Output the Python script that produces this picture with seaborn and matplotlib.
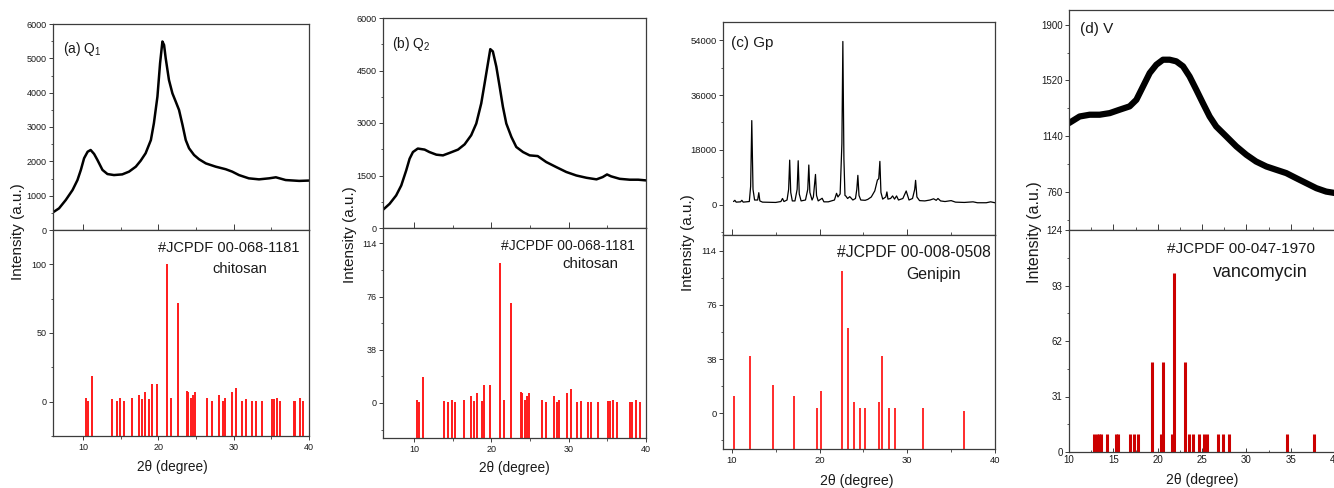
import numpy as np
import pandas as pd
import seaborn as sns
import matplotlib
matplotlib.use("Agg")
import matplotlib.pyplot as plt
from matplotlib.ticker import MultipleLocator, FixedLocator

# ---------------- data ----------------
# (a) Q1 XRD pattern
q1_x = [6.0, 6.8, 7.7, 8.6, 9.25, 9.7, 10.13, 10.6, 11.0, 11.46, 11.9, 12.57, 13.23, 14.1,
        15.2, 16.1, 17.0, 17.65, 18.3, 19.0, 19.4, 19.87, 20.22, 20.53, 20.75, 20.97, 21.4,
        21.86, 22.3, 22.74, 23.2, 23.63, 24.07, 24.73, 25.4, 26.3, 27.6, 28.94, 29.8, 30.7,
        32.0, 33.36, 34.7, 35.6, 36.9, 38.7, 40.0]
q1_y = [515, 630, 875, 1165, 1455, 1750, 2090, 2280, 2330, 2215, 2040, 1750, 1630, 1600,
        1620, 1700, 1845, 2020, 2235, 2620, 3110, 3885, 4855, 5490, 5390, 5000, 4370,
        3980, 3740, 3495, 3060, 2620, 2380, 2185, 2060, 1940, 1845, 1770, 1700, 1600,
        1505, 1475, 1505, 1535, 1455, 1430, 1440]

# (b) Q2 XRD pattern
q2_x = [6.0, 6.85, 7.7, 8.36, 9.0, 9.44, 9.87, 10.5, 11.38, 12.0, 12.9, 13.75, 14.6, 15.7,
        16.55, 17.4, 18.06, 18.7, 19.14, 19.57, 19.87, 20.2, 20.65, 21.08, 21.5, 21.94,
        22.6, 23.23, 24.1, 24.96, 26.0, 27.1, 28.4, 29.7, 31.0, 32.3, 33.6, 34.4, 34.96,
        35.5, 36.6, 37.9, 39.0, 40.0]
q2_y = [520, 690, 930, 1215, 1645, 1980, 2170, 2270, 2240, 2170, 2095, 2075, 2145, 2240,
        2390, 2650, 2985, 3560, 4135, 4710, 5110, 5045, 4610, 4040, 3465, 2985,
        2600, 2315, 2170, 2075, 2055, 1885, 1740, 1600, 1500, 1435, 1390, 1455, 1530,
        1475, 1405, 1380, 1380, 1360]

# (c) Genipin XRD pattern
gp_x = [10.2, 10.35, 10.5, 11.0, 11.15, 11.3, 12.0, 12.15, 12.28, 12.42, 12.6, 12.95, 13.08,
        13.2, 13.5, 15.0, 15.6, 15.78, 15.95, 16.3, 16.48, 16.6, 16.72, 16.9, 17.2, 17.45,
        17.57, 17.69, 17.9, 18.4, 18.66, 18.78, 18.9, 19.15, 19.3, 19.54, 19.66, 19.85,
        20.3, 20.5, 21.0, 21.7, 21.94, 22.1, 22.35, 22.55, 22.66, 22.78, 22.9, 23.0, 23.2,
        23.45, 23.8, 24.1, 24.25, 24.37, 24.5, 24.7, 25.2, 25.5, 25.9, 26.3, 26.6, 26.75,
        26.88, 27.0, 27.2, 27.55, 27.68, 27.8, 28.1, 28.33, 28.55, 28.78, 29.0, 29.5, 29.88,
        30.2, 30.6, 30.85, 30.95, 31.1, 31.4, 32.0, 32.6, 33.0, 33.3, 33.5, 33.8, 34.3,
        35.0, 35.5, 36.5, 37.5, 38.0, 39.0, 39.5, 40.0]
gp_y = [1000, 1400, 800, 900, 1400, 800, 1000, 6000, 27600, 5000, 1500, 1500, 3900,
        1200, 800, 700, 1000, 2000, 1000, 1500, 5000, 14600, 4000, 1200, 1200, 5000,
        14400, 3500, 1200, 1500, 5000, 13000, 4000, 1500, 2500, 9900, 3000, 1200,
        2070, 900, 900, 1500, 3700, 2500, 3500, 20000, 53600, 15000, 3000, 2800, 2000,
        2600, 1500, 2000, 5000, 9600, 3000, 1500, 1400, 1700, 2500, 4500, 8070, 8500,
        14200, 4000, 1800, 2500, 4150, 1800, 2000, 2840, 1800, 2840, 1500, 2000, 4470,
        1500, 2000, 5000, 7960, 2500, 1300, 1200, 1500, 1900, 1400, 2000, 1200, 1000,
        1300, 800, 700, 900, 600, 600, 900, 600]

# (d) Vancomycin XRD pattern (centre of the noisy trace)
v_x = [10.0, 11.2, 12.33, 13.46, 14.6, 15.7, 16.84, 17.6, 18.35, 19.1, 19.85, 20.6, 21.35,
       22.1, 22.86, 23.6, 24.36, 25.1, 25.86, 26.6, 27.74, 28.87, 30.0, 31.1, 32.26, 33.4,
       34.5, 35.64, 36.77, 37.9, 39.0, 40.0]
v_y = [1229, 1274, 1286, 1286, 1297, 1320, 1343, 1388, 1479, 1570, 1627, 1661, 1661,
       1650, 1616, 1547, 1456, 1365, 1274, 1206, 1138, 1070, 1013, 967, 933, 910,
       888, 853, 819, 785, 762, 752]

# reference stick patterns
chit_pos = [10.44, 10.62, 11.2, 13.9, 14.44, 14.88, 15.37, 16.48, 17.37, 17.8, 18.2, 18.79,
            19.1, 19.85, 21.1, 21.67, 22.56, 23.8, 23.98, 24.38, 24.65, 24.87, 26.5, 27.1,
            28.07, 28.55, 28.8, 29.8, 30.24, 31.04, 31.57, 32.46, 32.9, 33.79, 35.12, 35.39,
            35.79, 36.19, 37.96, 38.14, 38.76, 39.25]
chit_int = [2.4, 0.8, 18.8, 1.7, 0.7, 2.4, 0.7, 2.4, 4.9, 1.7, 6.8, 1.7,
            12.9, 12.9, 100, 2.4, 71.5, 7.8, 7.3, 2.4, 4.9, 6.8, 2.4, 0.7,
            4.9, 0.7, 2.4, 6.8, 9.8, 0.7, 1.7, 0.7, 0.7, 0.7, 1.7, 1.7,
            2.4, 0.7, 0.7, 0.7, 2.4, 0.7]

gen_pos = [10.27, 12.05, 14.71, 17.11, 19.7, 20.19, 22.59, 23.23, 23.95, 24.64, 25.13,
           26.73, 27.15, 27.95, 28.59, 31.82, 36.5]
gen_int = [11.9, 40, 19.9, 11.9, 3.7, 15.9, 100, 60, 8, 3.7, 3.7, 8, 40, 3.7, 3.7, 3.7, 1.9]

van_pos = [12.78, 13.2, 13.38, 13.6, 14.25, 15.26, 15.56, 16.84, 17.37, 17.74, 19.4, 20.38,
           20.56, 21.65, 21.8, 23.12, 23.5, 24.02, 24.62, 25.26, 25.6, 26.8, 27.4, 28.08,
           34.55, 37.6]
van_int = [10, 10, 10, 10, 10, 10, 10, 10, 10, 10, 50, 10,
           50, 10, 100, 50, 10, 10, 10, 10, 10, 10, 10, 10,
           10, 10]

panel_titles = ["(a) Q$\\mathregular{_1}$", "(b) Q$\\mathregular{_2}$", "(c) Gp", "(d) V"]
card_ids = ["#JCPDF 00-068-1181", "#JCPDF 00-068-1181", "#JCPDF 00-008-0508", "#JCPDF 00-047-1970"]
card_names = ["chitosan", "chitosan", "Genipin", "vancomycin"]
y_label = "Intensity (a.u.)"
x_label = "2\u03b8 (degree)"

# ---------------- styling ----------------
sns.set_theme(style="ticks")
plt.rcParams["font.family"] = ["Liberation Sans", "DejaVu Sans"]
plt.rcParams["mathtext.fontset"] = "custom"
plt.rcParams["mathtext.rm"] = "Liberation Sans"

W, H = 1334, 488
fig = plt.figure(figsize=(W / 100, H / 100), dpi=100)
fig.patch.set_facecolor("white")


def box(l, t, r, b):
    return [l / W, 1 - b / H, (r - l) / W, (b - t) / H]


SPINE = "#3c3c3c"
TXT = "#1a1a1a"


def style(ax, lab_size):
    for s in ax.spines.values():
        s.set_visible(True)
        s.set_color(SPINE)
        s.set_linewidth(0.9)
    ax.set_facecolor("white")
    ax.tick_params(axis="y", which="major", direction="out", length=3, width=0.7,
                   labelsize=lab_size, pad=1.5, colors=SPINE, labelcolor=TXT)
    ax.tick_params(axis="y", which="minor", direction="out", length=1.8, width=0.6, colors=SPINE)
    ax.tick_params(axis="x", which="major", length=3.2, width=0.7, labelsize=lab_size,
                   pad=2, colors=SPINE, labelcolor=TXT)
    ax.tick_params(axis="x", which="minor", length=1.8, width=0.6, colors=SPINE)
    ax.set_xlabel("")
    ax.set_ylabel("")


def top_panel(rect, xs, ys, xlim, ylim, yticks, ymin_step, xmaj, xmin, lw, lab_size):
    ax = fig.add_axes(box(*rect))
    df = pd.DataFrame({"x": xs, "y": ys})
    sns.lineplot(data=df, x="x", y="y", ax=ax, color="black", linewidth=lw,
                 sort=False, estimator=None)
    ax.set_xlim(*xlim)
    ax.set_ylim(*ylim)
    style(ax, lab_size)
    ax.yaxis.set_major_locator(FixedLocator(yticks))
    ax.yaxis.set_minor_locator(MultipleLocator(ymin_step))
    ax.set_yticklabels([str(t) for t in yticks])
    ax.xaxis.set_major_locator(MultipleLocator(xmaj))
    ax.xaxis.set_minor_locator(MultipleLocator(xmin))
    ax.tick_params(axis="x", which="both", direction="in", labelbottom=False)
    ax.tick_params(axis="x", which="major", length=4.5)
    ax.tick_params(axis="x", which="minor", length=2.2)
    return ax


def bottom_panel(rect, pos, inten, xlim, ylim, yticks, ymin_step, xticks, xmin, color, lw,
                 base, lab_size, xdir="out"):
    ax = fig.add_axes(box(*rect))
    ax.set_xlim(*xlim)
    ax.set_ylim(*ylim)
    ax.vlines(pos, base, inten, colors=color, linewidth=lw)
    style(ax, lab_size)
    ax.yaxis.set_major_locator(FixedLocator(yticks))
    ax.yaxis.set_minor_locator(MultipleLocator(ymin_step))
    ax.set_yticklabels([str(t) for t in yticks])
    ax.xaxis.set_major_locator(FixedLocator(xticks))
    ax.xaxis.set_minor_locator(MultipleLocator(xmin))
    ax.set_xticklabels([str(t) for t in xticks])
    ax.tick_params(axis="x", which="both", direction=xdir)
    return ax


# ---- panel (a)
top_panel((53, 24, 309, 230), q1_x, q1_y, (6, 40), (0, 6000),
          [0, 1000, 2000, 3000, 4000, 5000, 6000], 500, 10, 5, 1.8, 6.5)
bottom_panel((53, 230, 309, 436), chit_pos, chit_int, (6, 40), (-25, 125),
             [0, 50, 100], 25, [10, 20, 30, 40], 5, "#ff1a1a", 1.4, -25, 6.5)

# ---- panel (b)
top_panel((383, 18, 646, 228), q2_x, q2_y, (6, 40), (0, 6000),
          [0, 1500, 3000, 4500, 6000], 750, 10, 5, 1.8, 6.5)
bottom_panel((383, 228, 646, 438), chit_pos, chit_int, (6, 40), (-25, 125),
             [0, 38, 76, 114], 19, [10, 20, 30, 40], 5, "#ff1a1a", 1.4, -25, 6.5)

# ---- panel (c)
top_panel((723, 22, 995, 235), gp_x, gp_y, (9, 40), (-10000, 60000),
          [0, 18000, 36000, 54000], 9000, 10, 5, 0.9, 6.8)
bottom_panel((723, 235, 995, 449), gen_pos, gen_int, (9, 40), (-25, 125),
             [0, 38, 76, 114], 19, [10, 20, 30, 40], 5, "#ff1a1a", 1.3, -25, 6.8)

# ---- panel (d)
top_panel((1069, 10, 1335, 230), v_x, v_y, (10, 40), (500, 2000),
          [760, 1140, 1520, 1900], 190, 5, 2.5, 4.5, 7)
bottom_panel((1069, 230, 1335, 452), van_pos, van_int, (10, 40), (0, 124),
             [0, 31, 62, 93, 124], 15.5, [10, 15, 20, 25, 30, 35, 40], 2.5, "#cc0000", 2.2,
             0, 7, xdir="in")


# ---------------- texts ----------------
def ftext(x, y, s, size, ha="left", va="baseline", rot=0):
    fig.text(x / W, 1 - y / H, s, fontsize=size, ha=ha, va=va, rotation=rot, color=TXT)


# panel titles
ftext(63, 53, panel_titles[0], 10)
ftext(392, 48, panel_titles[1], 10)
ftext(731, 47, panel_titles[2], 11)
ftext(1080, 33, panel_titles[3], 11)

# card ids and names
ftext(300, 252, card_ids[0], 10.5, ha="right")
ftext(240, 273, card_names[0], 10.5, ha="center")
ftext(635, 250, card_ids[1], 10, ha="right")
ftext(590, 268, card_names[1], 10.8, ha="center")
ftext(991, 257, card_ids[2], 11.3, ha="right")
ftext(934, 279, card_names[2], 11.4, ha="center")
ftext(1315, 253, card_ids[3], 11, ha="right")
ftext(1260, 277, card_names[3], 12.9, ha="center")

# axis labels
ftext(172, 467, x_label, 9.8, ha="center", va="center")
ftext(514, 468, x_label, 9.8, ha="center", va="center")
ftext(857, 481, x_label, 10.2, ha="center", va="center")
ftext(1202, 480, x_label, 10, ha="center", va="center")

ftext(18, 232, y_label, 11, ha="center", va="center", rot=90)
ftext(350, 235, y_label, 11, ha="center", va="center", rot=90)
ftext(688, 243, y_label, 11, ha="center", va="center", rot=90)
ftext(1035, 232, y_label, 11.5, ha="center", va="center", rot=90)

fig.savefig("out.png", dpi=100, facecolor="white")
